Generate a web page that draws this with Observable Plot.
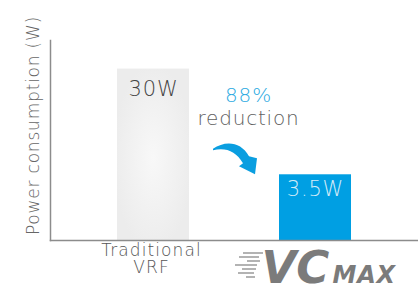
<!DOCTYPE html>
<html>
<head>
<meta charset="utf-8">
<script src="https://cdn.jsdelivr.net/npm/d3@7"></script>
<script src="https://cdn.jsdelivr.net/npm/@observablehq/plot@0.6"></script>
<style>
  html, body { margin: 0; padding: 0; background: #fff; }
  #chart svg { display: block; }
  .ls text { letter-spacing: 0.8px; }
  .ls2 text { letter-spacing: 1.1px; }
</style>
</head>
<body>
<div id="chart"></div>
<script>
// ---- data ----
const categories = ["Traditional VRF", "VCMAX"];
const valueLabels = ["30W", "3.5W"];
const barHeights = [30, 11.5];          // bar heights as drawn (not to scale)
const yAxisLabel = "Power consumption (W)";
const reductionPct = "88%";
const reductionWord = "reduction";
const categoryLabels = ["Traditional\nVRF", ""];
const logoBig = "VC";
const logoSmall = "MAX";

const bars = categories.map((c, i) => ({cat: c, h: barHeights[i], label: valueLabels[i]}));
const FONT = "'DejaVu Sans', sans-serif";

const defs = () => {
  const ns = "http://www.w3.org/2000/svg";
  const d = document.createElementNS(ns, "defs");
  d.innerHTML = `<radialGradient id="barGrad" cx="0.5" cy="0.52" r="0.55">
      <stop offset="0" stop-color="#f8f8f8"/>
      <stop offset="1" stop-color="#ececec"/>
    </radialGradient>`;
  return d;
};

const arrowMark = (index, scales) => {
  const ns = "http://www.w3.org/2000/svg";
  const tx = scales.x(categories[1]) - 24;
  const ty = scales.y(barHeights[1]);
  const p = (dx, dy) => `${tx + dx},${ty + dy}`;
  const path = document.createElementNS(ns, "path");
  path.setAttribute("d",
    `M${p(-42,-25.5)} C${p(-30,-34)} ${p(-14,-33)} ${p(-6,-18)} L${p(2,-16)} L${p(0,0)} L${p(-16,-8)} L${p(-12,-11)} C${p(-19,-23)} ${p(-29,-27)} ${p(-42,-24)} Z`);
  path.setAttribute("fill", "#0a9ee0");
  return path;
};

const speedLines = (index, scales) => {
  const ns = "http://www.w3.org/2000/svg";
  const g = document.createElementNS(ns, "g");
  const cx = scales.x(categories[1]) + scales.x.bandwidth() / 2;
  const base = 282;
  const lines = [[-72,-52,-29],[-76,-56,-25],[-68,-55,-21],[-80,-58,-17],[-73,-59,-13],[-77,-61,-9],[-69,-60,-5]];
  for (const [a, b, dy] of lines) {
    const l = document.createElementNS(ns, "line");
    l.setAttribute("x1", cx + a); l.setAttribute("x2", cx + b);
    l.setAttribute("y1", base + dy); l.setAttribute("y2", base + dy);
    l.setAttribute("stroke", "#8a8a8a"); l.setAttribute("stroke-width", "1.3");
    g.appendChild(l);
  }
  return g;
};

const chart = Plot.plot({
  width: 418,
  height: 287,
  marginLeft: 50,
  marginRight: 0,
  marginTop: 40,
  marginBottom: 47,
  style: {fontFamily: FONT, background: "#fff"},
  x: {domain: categories, paddingInner: 0.553, paddingOuter: 0.411, axis: null},
  y: {domain: [0, 35], axis: null},
  marks: [
    defs,
    Plot.barY([bars[0]], {x: "cat", y: "h", fill: "url(#barGrad)"}),
    Plot.barY([bars[1]], {x: "cat", y: "h", fill: "#009fe3"}),
    Plot.frame({anchor: "left", stroke: "#8c8c8c", strokeWidth: 1.5}),
    Plot.frame({anchor: "bottom", stroke: "#8c8c8c", strokeWidth: 1.5}),
    Plot.text([bars[0]], {x: "cat", y: "h", text: "label", dy: 20, fontSize: 21, fill: "#444444", fontWeight: 300, className: "ls"}),
    Plot.text([bars[1]], {x: "cat", y: "h", text: "label", dy: 14, fontSize: 21, fill: "#d4ecf8", fontWeight: 300, className: "ls"}),
    Plot.text([reductionPct], {x: () => categories[1], frameAnchor: "top", dx: -67, dy: 47, fontSize: 20, fill: "#2aa9e1", fontWeight: 300, className: "ls"}),
    Plot.text([reductionWord], {x: () => categories[1], frameAnchor: "top", dx: -67, dy: 70, fontSize: 20, fill: "#606060", fontWeight: 300, className: "ls"}),
    arrowMark,
    Plot.text([yAxisLabel], {frameAnchor: "left", textAnchor: "middle", rotate: -90, dx: -17, dy: -15, fontSize: 17, fill: "#666666", fontWeight: 300, className: "ls"}),
    Plot.text(categories.map((c, i) => ({cat: c, t: categoryLabels[i]})), {x: "cat", text: "t", frameAnchor: "bottom", lineAnchor: "top", dx: -2, dy: 3, fontSize: 17, lineHeight: 1.0, fill: "#555555", fontWeight: 300, className: "ls2"}),
    speedLines,
    Plot.text([logoBig], {x: () => categories[1], frameAnchor: "bottom", textAnchor: "start", lineAnchor: "bottom", dx: -54, dy: 42, fontSize: 45, fontWeight: "bold", fontStyle: "italic", fill: "#7b7b7b"}),
    Plot.text([logoSmall], {x: () => categories[1], frameAnchor: "bottom", textAnchor: "start", lineAnchor: "bottom", dx: 17, dy: 42, fontSize: 24, fontWeight: "bold", fontStyle: "italic", fill: "#7b7b7b", className: "ls"})
  ]
});
document.getElementById("chart").appendChild(chart);
</script>
</body>
</html>
